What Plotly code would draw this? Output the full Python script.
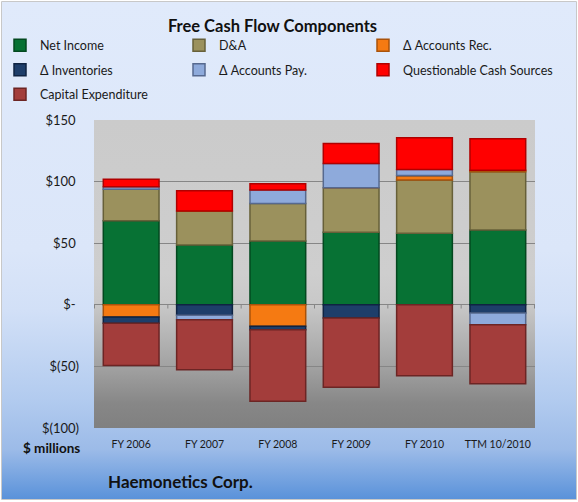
import base64
import plotly.graph_objects as go

# ---------------- data ----------------
categories = ["FY 2006", "FY 2007", "FY 2008", "FY 2009", "FY 2010", "TTM 10/2010"]
net_income = [68.3, 48.6, 51.8, 58.8, 58.0, 60.7]
d_and_a = [25.4, 27.5, 30.5, 36.2, 43.2, 47.2]
accounts_rec = [-10.0, 0.0, -17.5, 0.0, 3.8, 1.4]
inventories = [-4.9, -8.4, -2.7, -10.8, 0.0, -6.7]
accounts_pay = [2.1, -3.8, 10.8, 19.7, 4.9, -9.5]
questionable = [6.2, 16.5, 5.1, 16.2, 25.6, 25.4]
capex = [-34.4, -40.5, -58.0, -56.2, -57.5, -47.8]

y_tickvals = [150, 100, 50, 0, -50, -100]
y_ticktext = ["$150\u00a0", "$100\u00a0", "$50\u00a0", "$-\u00a0", "$(50)", "$(100)"]

# ---------------- geometry helpers ----------------
W, H = 578, 502
ML, MR, MT, MB = 94, 43, 120, 74
PW, PH = W - ML - MR, H - MT - MB


def xp(px):
    return (px - ML) / PW


def yp(py):
    return (H - MB - py) / PH


def grad_svg(stops):
    st = "".join(f'<stop offset="{o}" stop-color="{c}"/>' for o, c in stops)
    svg = (
        '<svg xmlns="http://www.w3.org/2000/svg" width="100" height="100" '
        'viewBox="0 0 100 100" preserveAspectRatio="none">'
        f'<defs><linearGradient id="g" x1="0" y1="0" x2="0" y2="1">{st}</linearGradient></defs>'
        '<rect x="0" y="0" width="100" height="100" fill="url(#g)"/></svg>'
    )
    return "data:image/svg+xml;base64," + base64.b64encode(svg.encode()).decode()


FONT = "Lato, 'Open Sans', sans-serif"

series = [
    ("Net Income", net_income, "#077234", "#03481f", "legend"),
    ("D&A", d_and_a, "#9b915d", "#676039", "legend2"),
    ("Δ Accounts Rec.", accounts_rec, "#f57a12", "#a9520a", "legend3"),
    ("Δ Inventories", inventories, "#1e3e6a", "#0f2342", "legend"),
    ("Δ Accounts Pay.", accounts_pay, "#8eaadb", "#56698f", "legend2"),
    ("Questionable Cash Sources", questionable, "#ff0000", "#b00000", "legend3"),
    ("Capital Expenditure", capex, "#a33d3b", "#6c2524", "legend"),
]

fig = go.Figure()
for name, vals, col, lcol, leg in series:
    fig.add_trace(
        go.Bar(
            x=categories,
            y=vals,
            name=name,
            legendgroup=name,
            legend=leg,
            marker=dict(color=col, line=dict(color=lcol, width=1.5)),
        )
    )

# small tick marks on the zero line at category boundaries
shapes = []
for i in range(len(categories) + 1):
    shapes.append(
        dict(type="line", xref="x", yref="y", x0=i - 0.5, x1=i - 0.5, y0=0, y1=-3,
             line=dict(color="#868686", width=1), layer="above")
    )
# chart border
shapes.append(
    dict(type="rect", xref="paper", yref="paper", x0=xp(1.5), x1=xp(576.5), y0=yp(499.5), y1=yp(1.5),
         line=dict(color="#c8c8c8", width=1), layer="below")
)

images = [
    dict(
        source=grad_svg([(0, "#e0eafb"), (0.5, "#dbe6f9"), (0.62, "#d2e0f7"),
                         (0.8, "#b2cbef"), (0.9, "#9cbbe8"), (1, "#5a92da")]),
        xref="paper", yref="paper", x=xp(2), y=yp(2), sizex=(574) / PW, sizey=(497) / PH,
        sizing="stretch", xanchor="left", yanchor="top", layer="below",
    ),
    dict(
        source=grad_svg([(0, "#cbcbcb"), (0.5, "#cecece"), (0.6, "#c8c8c8"),
                         (0.8, "#a2a2a2"), (0.92, "#878787"), (1, "#808080")]),
        xref="paper", yref="paper", x=0, y=1, sizex=1, sizey=1,
        sizing="stretch", xanchor="left", yanchor="top", layer="below",
    ),
]

leg_common = dict(
    orientation="v", xanchor="left", yanchor="top", traceorder="grouped",
    xref="container", yref="container",
    tracegroupgap=5.25, bgcolor="rgba(0,0,0,0)", borderwidth=0,
    font=dict(family=FONT, size=12.5, color="#1a1a1a"), itemclick=False, itemdoubleclick=False,
)
LEG_TOP = 1 - 30.5 / H

fig.update_layout(
    width=W, height=H,
    margin=dict(l=ML, r=MR, t=MT, b=MB, pad=0, autoexpand=False),
    paper_bgcolor="white",
    plot_bgcolor="rgba(0,0,0,0)",
    barmode="relative",
    bargap=0.24,
    font=dict(family=FONT, color="#1a1a1a"),
    title=dict(
        text="<b>Free Cash Flow Components</b>", xref="container", yref="container",
        x=272.5 / W, y=1 - 26 / H, xanchor="center", yanchor="middle",
        font=dict(family=FONT, size=16.5, color="#111111"),
    ),
    legend=dict(x=0, y=LEG_TOP, **leg_common),
    legend2=dict(x=179 / W, y=LEG_TOP, **leg_common),
    legend3=dict(x=363 / W, y=LEG_TOP, **leg_common),
    xaxis=dict(
        type="category", showgrid=False, showline=False, ticks="",
        tickfont=dict(family=FONT, size=10.5, color="#1a1a1a"),
        ticklabelstandoff=8, fixedrange=True,
    ),
    yaxis=dict(
        range=[-100, 150], tickvals=y_tickvals, ticktext=y_ticktext,
        showgrid=True, gridcolor="#868686", gridwidth=1,
        zeroline=True, zerolinecolor="#868686", zerolinewidth=1,
        showline=False, ticks="",
        tickfont=dict(family=FONT, size=13, color="#1a1a1a"),
        ticklabelstandoff=14, fixedrange=True,
    ),
    shapes=shapes,
    images=images,
    annotations=[
        dict(text="<b>$ millions</b>", xref="paper", yref="paper", x=xp(51), y=yp(448),
             xanchor="center", yanchor="middle", showarrow=False,
             font=dict(family=FONT, size=13.5, color="#111111")),
        dict(text="<b>Haemonetics Corp.</b>", xref="paper", yref="paper", x=xp(106), y=yp(481.5),
             xanchor="left", yanchor="middle", showarrow=False,
             font=dict(family=FONT, size=17, color="#111111")),
    ],
)

fig.write_html("out.html")
